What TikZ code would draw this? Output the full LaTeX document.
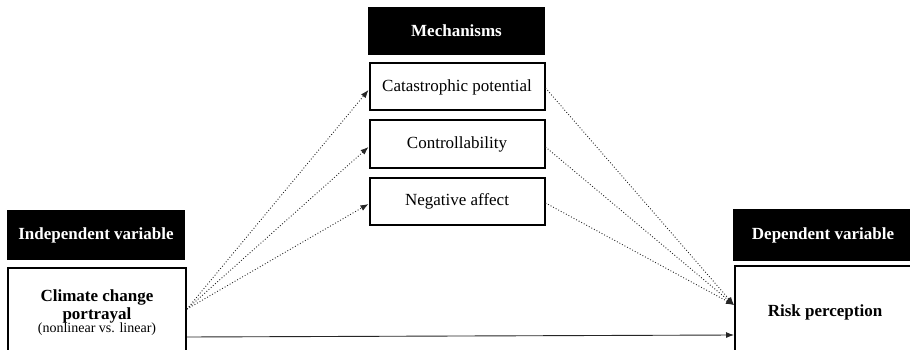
\documentclass[tikz,border=0pt]{standalone}
\usepackage{fontspec}
\setmainfont{Liberation Serif}
\usetikzlibrary{arrows.meta}
\begin{document}
\begin{tikzpicture}[x=1pt,y=-1pt,
  headbox/.style={fill=black,text=white,font=\fontsize{17}{20}\selectfont\bfseries,
    inner sep=0pt,minimum width=178pt,minimum height=50pt},
  mechbox/.style={draw=black,line width=2pt,fill=white,font=\fontsize{17}{20}\selectfont,
    inner sep=0pt,minimum width=175pt,minimum height=47pt},
  varbox/.style={draw=black,line width=2pt,fill=white,inner sep=0pt,
    minimum width=178pt,minimum height=92pt},
  dotarrow/.style={dotted,line width=0.9pt,draw=black!85,
    -{Latex[length=8pt,width=6pt]}},
  solidarrow/.style={line width=0.9pt,draw=black!85,
    -{Latex[length=8pt,width=6pt]}}
]
\useasboundingbox (0,0) rectangle (910,350);
\clip (0,0) rectangle (910,350);
% headers
\node[headbox] (ivh) at (96,235) {Independent variable};
\node[headbox,minimum width=177pt,minimum height=48pt] (mh) at (456.5,31) {Mechanisms};
\node[headbox,minimum width=180pt,minimum height=52pt] (dvh) at (823,235) {Dependent variable};
% mechanism boxes
\node[mechbox] (cat) at (457,87) {Catastrophic potential};
\node[mechbox] (con) at (457,144) {Controllability};
\node[mechbox] (neg) at (457,201) {Negative affect};
% variable boxes
\node[varbox] (clim) at (97,314) {};
\node[align=center,inner sep=0pt,font=\fontsize{17}{18}\selectfont\bfseries] (climtxt) at (97,306) {Climate change\\portrayal};
\node[inner sep=0pt,font=\fontsize{14}{16}\selectfont] (climsub) at (97,329) {(nonlinear vs. linear)};
\node[varbox,minimum width=180pt,font=\fontsize{17}{20}\selectfont\bfseries] (risk) at (825,312) {Risk perception};
% connectors
\draw[dotarrow] ([yshift=5pt]clim.east) -- ([yshift=-3pt]cat.west);
\draw[dotarrow] ([yshift=5pt]clim.east) -- ([yshift=-3pt]con.west);
\draw[dotarrow] ([yshift=5pt]clim.east) -- ([yshift=-3pt]neg.west);
\draw[dotarrow] ([yshift=-1pt]cat.east) -- ([yshift=7pt]risk.west);
\draw[dotarrow] ([yshift=-3pt]con.east) -- ([yshift=7pt]risk.west);
\draw[dotarrow] ([yshift=-2pt]neg.east) -- ([yshift=7pt]risk.west);
\draw[solidarrow] ([yshift=-23pt]clim.east) -- ([yshift=-23pt]risk.west);
\end{tikzpicture}
\end{document}
